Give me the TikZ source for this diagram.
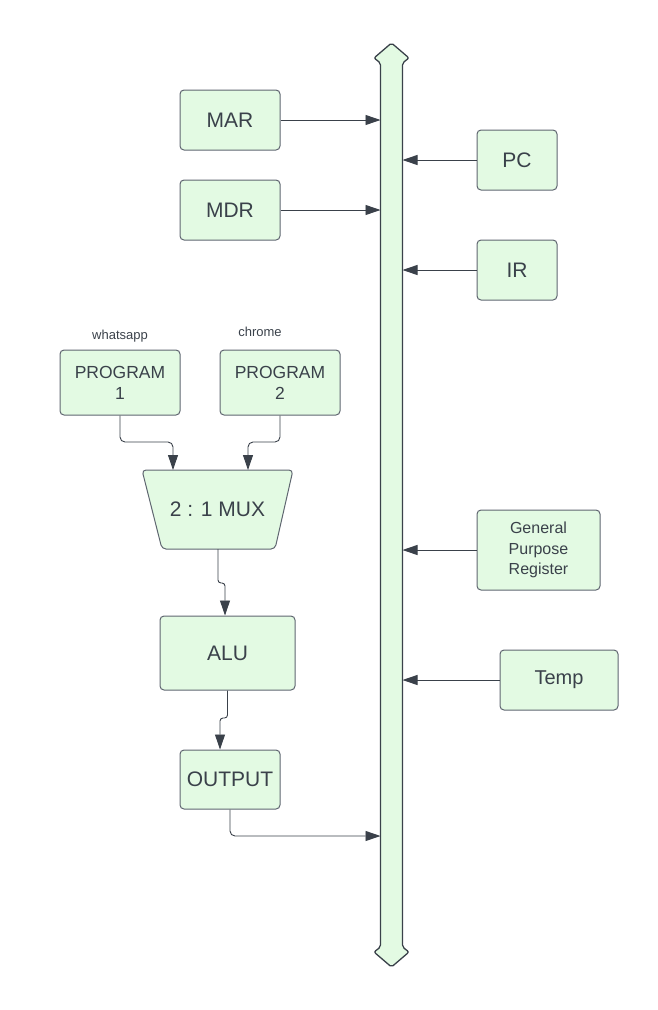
\documentclass[tikz,border=0pt]{standalone}
\usepackage{fontspec}
\setmainfont{Liberation Sans}
\usetikzlibrary{arrows.meta}
\definecolor{boxfill}{RGB}{227,250,227}
\definecolor{boxline}{RGB}{95,102,112}
\definecolor{ink}{RGB}{58,65,74}
\begin{document}
\begin{tikzpicture}[x=1pt,y=-1pt,
  box/.style={draw=boxline, fill=boxfill, line width=1pt, rounded corners=4pt, inner sep=0pt, text=ink, align=center, font=\fontsize{21}{25}\selectfont},
  conn/.style={draw=ink, line width=0.9pt, -{Triangle[length=15pt,width=10pt]}},
  lbl/.style={text=ink, font=\fontsize{13}{15}\selectfont}]
\useasboundingbox (0,0) rectangle (657,1010);
% bus
\draw[draw=ink, fill=boxfill, line width=1.3pt, rounded corners=2pt]
 (391.5,43) -- (409,58) -- (402.5,63) -- (402.5,947) -- (409,952) -- (391.5,967)
 -- (374,952) -- (380.5,947) -- (380.5,63) -- (374,58) -- cycle;
\coordinate (busL) at (380.5,500);
\coordinate (busR) at (402.5,500);
% boxes
\node[box, minimum width=100pt, minimum height=60pt] (mar) at (230,120) {MAR};
\node[box, minimum width=100pt, minimum height=60pt] (mdr) at (230,210) {MDR};
\node[box, minimum width=80pt, minimum height=60pt] (pc) at (517,160) {PC};
\node[box, minimum width=80pt, minimum height=60pt] (ir) at (517,270) {IR};
\node[box, minimum width=123pt, minimum height=80pt, font=\fontsize{16}{20.5}\selectfont] (gpr) at (538.5,550) {General\\Purpose\\Register};
\node[box, minimum width=118pt, minimum height=60pt, font=\fontsize{20}{24}\selectfont] (temp) at (559,680) {Temp};
\node[box, minimum width=120pt, minimum height=65pt, font=\fontsize{17.5}{21}\selectfont] (p1) at (120,382.5) {PROGRAM\\1};
\node[box, minimum width=120pt, minimum height=65pt, font=\fontsize{17.5}{21}\selectfont] (p2) at (280,382.5) {PROGRAM\\2};
\node[box, minimum width=135pt, minimum height=74pt] (alu) at (227.5,653) {ALU};
\node[box, minimum width=100pt, minimum height=59pt] (out) at (230,779.5) {OUTPUT};
% mux
\draw[draw=boxline, fill=boxfill, line width=1pt, rounded corners=4pt]
 (142,470) -- (293,470) -- (275,549) -- (162,549) -- cycle;
\node[text=ink, font=\fontsize{21}{25}\selectfont] (mux) at (217.5,509.5) {2 : 1 MUX};
\coordinate (m1) at (173,470);
\coordinate (m2) at (248,470);
\coordinate (mo) at (218,549);
% labels
\node[lbl] (wa) at (120,336) {whatsapp};
\node[lbl] (ch) at (260,332) {chrome};
% connectors
\draw[conn] (mar.east) -- (mar.east -| busL);
\draw[conn] (mdr.east) -- (mdr.east -| busL);
\draw[conn] (pc.west) -- (pc.west -| busR);
\draw[conn] (ir.west) -- (ir.west -| busR);
\draw[conn] (gpr.west) -- (gpr.west -| busR);
\draw[conn] (temp.west) -- (temp.west -| busR);
\draw[conn, rounded corners=5pt] (p1.south) |- (173,442) -- (m1);
\draw[conn, rounded corners=5pt] (p2.south) |- (248,442) -- (m2);
\draw[conn, rounded corners=3pt] (mo) -- (218,583) -- (225,583) -- ([xshift=-2.5pt]alu.north);
\draw[conn, rounded corners=3pt] (alu.south) -- (227.5,718) -- (220,718) -- ([xshift=-10pt]out.north);
\draw[conn, rounded corners=5pt] (out.south) |- (busL |- 0,836);
\end{tikzpicture}
\end{document}
